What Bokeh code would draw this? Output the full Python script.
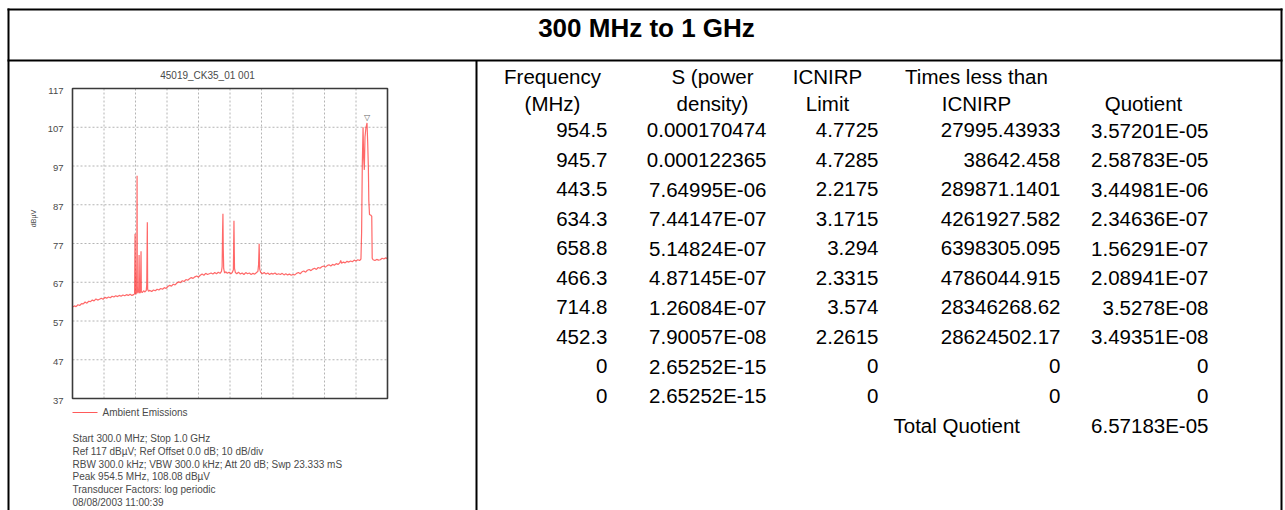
from math import pi
from bokeh.plotting import figure
from bokeh.models import Range1d, ColumnDataSource
from bokeh.core.properties import value
from bokeh.embed import file_html
from bokeh.resources import INLINE

# ---------------- data ----------------
page_title = "300 MHz to 1 GHz"
chart_title = "45019_CK35_01 001"
y_unit = "dBµV"
y_ticks = [37, 47, 57, 67, 77, 87, 97, 107, 117]
x_grid = [300, 370, 440, 510, 580, 650, 720, 790, 860, 930, 1000]
legend_label = "Ambient Emissions"
peak_mhz = 954.5
peak_dbuv = 108.08

trace_points = [
    (300, 60.6), (304, 60.9), (308, 60.7), (312, 61.2), (316, 61.0), (320, 61.5),
    (324, 61.4), (328, 61.9), (332, 61.6), (336, 62.1), (340, 62.0), (344, 62.4),
    (348, 62.2), (352, 62.7), (356, 62.4), (360, 62.6), (364, 62.9), (368, 62.6),
    (372, 63.1), (376, 62.9), (380, 63.2), (384, 63.0), (388, 63.4), (392, 63.2),
    (396, 63.5), (400, 63.3), (404, 63.6), (408, 63.4), (412, 63.7), (416, 63.5),
    (420, 63.8), (424, 63.6), (428, 63.9), (432, 63.6), (436, 63.8), (438, 64.0),
    (439, 79.5), (440, 64.1), (441, 63.9), (442, 64.3), (443, 72.0), (443.5, 94.5),
    (444, 66.0), (445, 64.2), (447, 64.6), (448, 74.0), (449, 64.4), (450, 64.2),
    (451, 64.5), (452.3, 75.0), (453, 64.6), (455, 64.3), (458, 64.8), (461, 64.5),
    (464, 64.9), (465, 66.5), (466.3, 82.5), (467, 65.2), (469, 64.7), (472, 64.9),
    (476, 64.6), (480, 65.0), (484, 64.8), (488, 65.2), (492, 65.0), (496, 65.4),
    (500, 65.2), (504, 65.6), (508, 65.4), (512, 65.9), (516, 66.2), (520, 66.0),
    (524, 66.5), (528, 66.3), (532, 66.8), (536, 67.1), (540, 66.9), (544, 67.4),
    (548, 67.2), (552, 67.7), (556, 67.5), (560, 67.9), (564, 68.2), (568, 68.0),
    (572, 68.4), (576, 68.6), (580, 68.3), (584, 68.8), (588, 69.1), (592, 68.8),
    (596, 69.3), (600, 69.0), (604, 69.2), (608, 69.4), (612, 69.1), (616, 69.5),
    (620, 69.2), (624, 69.6), (628, 69.3), (631, 69.8), (632.5, 71.0), (633.5, 80.0),
    (634.3, 84.7), (635, 76.0), (636, 70.5), (638, 69.4), (641, 69.7), (644, 69.3),
    (648, 69.6), (652, 69.2), (655, 69.5), (657.5, 70.2), (658.8, 82.9), (660, 70.6),
    (662, 69.5), (665, 69.2), (669, 69.6), (673, 69.1), (677, 69.4), (681, 69.0),
    (685, 69.5), (689, 69.2), (693, 69.4), (697, 69.0), (701, 69.3), (705, 69.1),
    (709, 69.5), (712, 69.8), (713.5, 71.5), (714.8, 76.9), (716, 70.4), (718, 69.6),
    (722, 69.2), (726, 69.5), (730, 69.1), (734, 69.4), (738, 69.0), (742, 69.3),
    (746, 69.1), (750, 69.4), (754, 69.0), (758, 69.2), (762, 69.0), (766, 69.3),
    (770, 68.9), (774, 69.2), (778, 68.9), (782, 69.1), (786, 68.8), (790, 69.0),
    (794, 68.9), (798, 69.3), (802, 69.5), (806, 69.2), (810, 69.7), (814, 69.9),
    (818, 69.6), (822, 70.1), (826, 70.3), (830, 70.0), (834, 70.4), (838, 70.6),
    (842, 70.3), (846, 70.8), (850, 70.6), (854, 71.0), (858, 71.2), (862, 70.9),
    (866, 71.3), (870, 71.5), (874, 71.2), (878, 71.6), (882, 71.4), (886, 71.8),
    (890, 71.6), (894, 72.0), (896, 72.6), (898, 71.9), (902, 72.2), (906, 72.0),
    (910, 72.4), (914, 72.2), (918, 72.5), (922, 72.3), (926, 72.7), (930, 72.5),
    (934, 72.8), (938, 72.6), (941, 73.0), (942.5, 80.0), (944, 97.5), (945.7, 107.0),
    (947, 99.0), (948.5, 96.0), (950, 104.5), (952, 106.8), (954.5, 108.1), (956, 103.0),
    (957.5, 96.5), (958.5, 88.0), (960, 84.5), (963, 84.3), (965, 84.0), (966, 73.2),
    (968, 72.8), (972, 72.6), (976, 72.9), (980, 72.7), (984, 72.8), (988, 73.2),
    (992, 73.0), (996, 73.3), (1000, 73.1),
]
trace_mhz = [pt[0] for pt in trace_points]
trace_dbuv = [pt[1] for pt in trace_points]

info_lines = [
    "Start 300.0 MHz; Stop 1.0 GHz",
    "Ref 117 dBµV; Ref Offset 0.0 dB; 10 dB/div",
    "RBW 300.0 kHz; VBW 300.0 kHz; Att 20 dB; Swp 23.333 mS",
    "Peak 954.5 MHz, 108.08 dBµV",
    "Transducer Factors: log periodic",
    "08/08/2003 11:00:39",
]

header_line1 = ["Frequency", "S (power", "ICNIRP", "Times less than", ""]
header_line2 = ["(MHz)", "density)", "Limit", "ICNIRP", "Quotient"]
freq_mhz = ["954.5", "945.7", "443.5", "634.3", "658.8", "466.3", "714.8", "452.3", "0", "0"]
s_density = ["0.000170474", "0.000122365", "7.64995E-06", "7.44147E-07", "5.14824E-07",
             "4.87145E-07", "1.26084E-07", "7.90057E-08", "2.65252E-15", "2.65252E-15"]
icnirp_limit = ["4.7725", "4.7285", "2.2175", "3.1715", "3.294", "2.3315", "3.574", "2.2615", "0", "0"]
times_less = ["27995.43933", "38642.458", "289871.1401", "4261927.582", "6398305.095",
              "4786044.915", "28346268.62", "28624502.17", "0", "0"]
quotient = ["3.57201E-05", "2.58783E-05", "3.44981E-06", "2.34636E-07", "1.56291E-07",
            "2.08941E-07", "3.5278E-08", "3.49351E-08", "0", "0"]
total_label = "Total Quotient"
total_quotient = "6.57183E-05"

# ---------------- layout ----------------
W, H = 1285, 510
FONT = value("Liberation Sans")

p = figure(width=W, height=H, x_range=Range1d(0, W), y_range=Range1d(H, 0),
           output_backend="svg", toolbar_location=None, min_border=0,
           x_axis_type=None, y_axis_type=None, outline_line_color=None,
           background_fill_color="white", border_fill_color="white")

# table borders
p.segment(x0=[7, 7, 8, 1281, 476], y0=[9, 60, 8, 8, 60],
          x1=[1282, 1282, 8, 1281, 476], y1=[9, 60, 510, 510, 510],
          line_color="black", line_width=2)

# page title
p.text(x=[646], y=[27], text=[page_title], text_align="center", text_baseline="middle",
       text_font=FONT, text_font_style="bold", text_font_size="26px", text_color="black")

# ---------------- spectrum chart (sub-coordinates) ----------------
sub = p.subplot(x_source=Range1d(x_grid[0], x_grid[-1]), y_source=Range1d(y_ticks[0], y_ticks[-1]),
                x_target=Range1d(72, 387), y_target=Range1d(398, 88))

grid_h = ColumnDataSource(dict(x0=[x_grid[0]] * len(y_ticks), x1=[x_grid[-1]] * len(y_ticks),
                               y=y_ticks))
sub.segment(x0="x0", x1="x1", y0="y", y1="y", source=grid_h,
            line_color="#b4b4b4", line_width=1, line_dash="2 2")
grid_v = ColumnDataSource(dict(x=x_grid, y0=[y_ticks[0]] * len(x_grid), y1=[y_ticks[-1]] * len(x_grid)))
sub.segment(x0="x", x1="x", y0="y0", y1="y1", source=grid_v,
            line_color="#b4b4b4", line_width=1, line_dash="2 2")

sub.line(x=trace_mhz, y=trace_dbuv, line_color="#ff2a2a", line_alpha=0.7, line_width=1.2)

sub.quad(left=[x_grid[0]], right=[x_grid[-1]], bottom=[y_ticks[0]], top=[y_ticks[-1]],
         fill_color=None, line_color="#3a3a3a", line_width=1.6)

sub.text(x=[peak_mhz], y=[peak_dbuv], text=["▽"], text_align="center", text_baseline="bottom",
         y_offset=-1, text_font_size="8px", text_color="#666666", text_font=value("DejaVu Sans"))

sub.text(x=[x_grid[0]] * len(y_ticks), y=y_ticks, text=[str(t) for t in y_ticks],
         x_offset=-9, y_offset=2, text_align="right", text_baseline="middle",
         text_font=FONT, text_font_size="9.5px", text_color="#4a4a4a")

p.text(x=[207], y=[75], text=[chart_title], text_align="center", text_baseline="middle",
       text_font=FONT, text_font_size="10px", text_color="#4a4a4a")
p.text(x=[33], y=[218], text=[y_unit], angle=pi / 2, text_align="center", text_baseline="middle",
       text_font=FONT, text_font_size="7px", text_color="#4a4a4a")

# legend
p.segment(x0=[72], x1=[97], y0=[412], y1=[412], line_color="#ff5a5a", line_width=1.2)
p.text(x=[102], y=[412], text=[legend_label], text_align="left", text_baseline="middle",
       text_font=FONT, text_font_size="10px", text_color="#4a4a4a")

# info lines
p.text(x=[72] * len(info_lines), y=[438 + 12.8 * i for i in range(len(info_lines))], text=info_lines,
       text_align="left", text_baseline="middle", text_font=FONT, text_font_size="10px",
       text_color="#4a4a4a")

# ---------------- table ----------------
TS = "20.5px"
hdr_x = [552, 712, 827, 976, 1143]
p.text(x=hdr_x, y=[76] * 5, text=header_line1, text_align="center", text_baseline="middle",
       text_font=FONT, text_font_size=TS, text_color="black")
p.text(x=hdr_x, y=[103] * 5, text=header_line2, text_align="center", text_baseline="middle",
       text_font=FONT, text_font_size=TS, text_color="black")

ROW0, PITCH = 129.5, 29.5
row_y = [ROW0 + PITCH * i for i in range(len(freq_mhz))]
col_right = [607, 766, 878, 1060, 1208]
for cx, col in zip(col_right, [freq_mhz, s_density, icnirp_limit, times_less, quotient]):
    p.text(x=[cx] * len(col), y=row_y, text=col, text_align="right", text_baseline="middle",
           text_font=FONT, text_font_size=TS, text_color="black")

total_y = ROW0 + PITCH * len(freq_mhz)
p.text(x=[893], y=[total_y], text=[total_label], text_align="left", text_baseline="middle",
       text_font=FONT, text_font_size=TS, text_color="black")
p.text(x=[1208], y=[total_y], text=[total_quotient], text_align="right", text_baseline="middle",
       text_font=FONT, text_font_size=TS, text_color="black")

open("out.html", "w").write(file_html(p, INLINE))
